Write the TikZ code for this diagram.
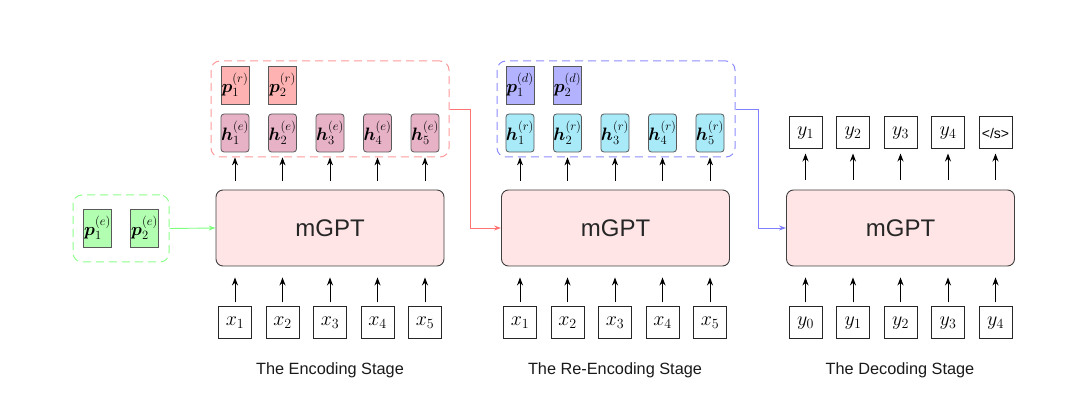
\RequirePackage{fix-cm}
\documentclass[tikz,border=0pt]{standalone}
\usepackage{amsmath}
\usepackage{bm}
\usepackage{fontspec}
\setsansfont{Liberation Sans}
\usetikzlibrary{arrows.meta}
\definecolor{hrcol}{RGB}{168,234,248}
\definecolor{hecol}{RGB}{232,178,198}
\definecolor{prcol}{RGB}{255,178,178}
\definecolor{pdcol}{RGB}{178,178,255}
\definecolor{pecol}{RGB}{178,255,178}
\begin{document}
\begin{tikzpicture}[x=1pt,y=-1pt,
  model/.style={draw=black!75, fill=red!10, rounded corners=7pt, minimum width=228pt, minimum height=76pt, inner sep=0pt, line width=0.9pt, font=\sffamily\fontsize{24}{27}\selectfont, text=black!85},
  tok/.style={draw=black!85, line width=1pt, minimum width=33pt, minimum height=32pt, inner sep=0pt, font=\fontsize{20}{22}\selectfont},
  vec/.style={draw=black!65, line width=0.8pt, minimum width=28pt, minimum height=38pt, inner sep=0pt, font=\fontsize{18}{20}\selectfont},
  hvec/.style={vec, rounded corners=3pt},
  grp/.style={line width=1pt, dash pattern=on 8pt off 5pt, rounded corners=9pt, inner sep=0pt},
  arr/.style={-{Stealth[length=8pt,width=6pt]}, line width=1pt},
  carr/.style={-{Stealth[length=7pt,width=5pt]}, line width=0.9pt},
  stage/.style={font=\sffamily\fontsize{16.3}{19}\selectfont, text=black!90}
]
\useasboundingbox (0,0) rectangle (1080,406);

% ---------- models ----------
\node[model] (m1) at (330,228) {mGPT};
\node[model] (m2) at (615.5,228) {mGPT};
\node[model] (m3) at (900.5,228) {mGPT};

% ---------- stage 1 ----------
\foreach \i/\x in {1/235,2/282.5,3/330,4/377.5,5/425}{
  \node[tok] (xa\i) at (\x,323) {$x_{\i}$};
  \draw[arr, shorten <=4pt, shorten >=11pt] (xa\i.north) -- (xa\i.north |- m1.south);
  \node[hvec, fill=hecol] (he\i) at (\x,133) {$\bm{h}_{\i}^{(e)}$};
  \draw[arr, shorten <=9pt, shorten >=5pt] (he\i.south |- m1.north) -- (he\i.south);
}
\node[vec, fill=prcol] (pr1) at (235,85) {$\bm{p}_{1}^{(r)}$};
\node[vec, fill=prcol] (pr2) at (282.5,85) {$\bm{p}_{2}^{(r)}$};
\node[grp, draw=red!40, minimum width=238pt, minimum height=96pt] (g1) at (330,109) {};

% green prompt group
\node[vec, fill=pecol] (pe1) at (97.5,228) {$\bm{p}_{1}^{(e)}$};
\node[vec, fill=pecol] (pe2) at (144.5,228) {$\bm{p}_{2}^{(e)}$};
\node[grp, draw=green!45, minimum width=96pt, minimum height=67pt] (gg) at (121,228.5) {};
\draw[carr, green!50] (gg.east) -- (m1.west);

% ---------- stage 2 ----------
\foreach \i/\x in {1/520,2/567.5,3/615,4/662.5,5/710}{
  \node[tok] (xb\i) at (\x,323) {$x_{\i}$};
  \draw[arr, shorten <=4pt, shorten >=11pt] (xb\i.north) -- (xb\i.north |- m2.south);
  \node[hvec, fill=hrcol] (hr\i) at (\x,133) {$\bm{h}_{\i}^{(r)}$};
  \draw[arr, shorten <=9pt, shorten >=5pt] (hr\i.south |- m2.north) -- (hr\i.south);
}
\node[vec, fill=pdcol] (pd1) at (520,85) {$\bm{p}_{1}^{(d)}$};
\node[vec, fill=pdcol] (pd2) at (567.5,85) {$\bm{p}_{2}^{(d)}$};
\node[grp, draw=blue!45, minimum width=238pt, minimum height=96pt] (g2) at (616,109) {};

\coordinate (r1) at (470,109);
\draw[carr, red!55] (g1.east) -- (r1) |- (m2.west);
\coordinate (b1) at (758,109);
\draw[carr, blue!50] (g2.east) -- (b1) |- (m3.west);

% ---------- stage 3 ----------
\foreach \i/\x/\o in {1/805.5/y_{0},2/853/y_{1},3/900.5/y_{2},4/948/y_{3},5/995.5/y_{4}}{
  \node[tok] (ya\i) at (\x,323) {$\o$};
  \draw[arr, shorten <=4pt, shorten >=11pt] (ya\i.north) -- (ya\i.north |- m3.south);
}
\foreach \i/\x/\o in {1/805.5/y_{1},2/853/y_{2},3/900.5/y_{3},4/948/y_{4}}{
  \node[tok] (yo\i) at (\x,133) {$\o$};
  \draw[arr, shorten <=10pt, shorten >=4pt] (yo\i.south |- m3.north) -- (yo\i.south);
}
\node[tok, font=\sffamily\fontsize{14}{16}\selectfont] (yo5) at (995.5,133) {</s>};
\draw[arr, shorten <=10pt, shorten >=4pt] (yo5.south |- m3.north) -- (yo5.south);

% ---------- stage labels ----------
\node[stage] (s1) at (330,370) {The Encoding Stage};
\node[stage] (s2) at (615,370) {The Re-Encoding Stage};
\node[stage] (s3) at (900,370) {The Decoding Stage};
\end{tikzpicture}
\end{document}
